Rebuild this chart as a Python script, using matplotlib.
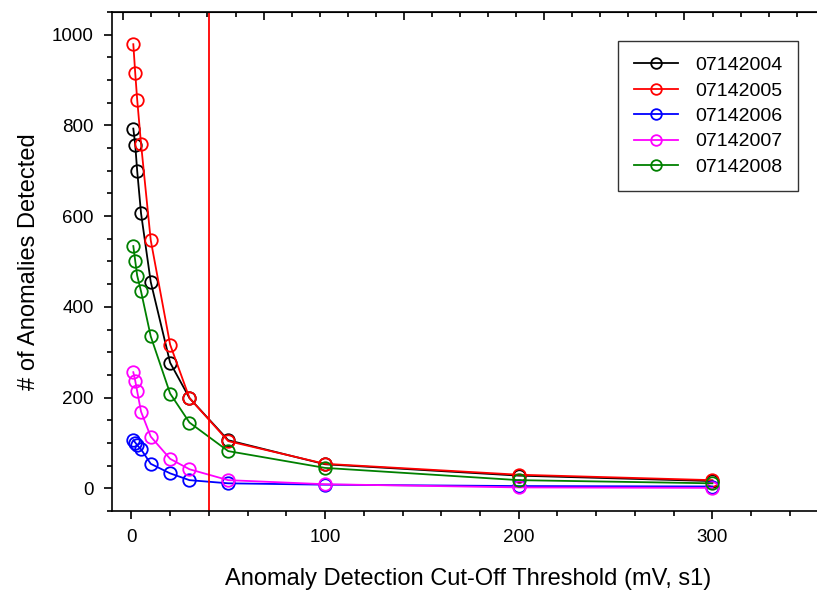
import matplotlib
matplotlib.use("Agg")
from matplotlib import pyplot as plt
from matplotlib.ticker import MultipleLocator

plt.rcParams['font.family'] = ['Liberation Sans', 'DejaVu Sans']

# cut-off thresholds (mV)
thresholds = [1, 2, 3, 5, 10, 20, 30, 50, 100, 200, 300]

# anomalies detected per recording
rec_07142004 = [793, 757, 700, 606, 455, 277, 199, 106, 53, 28, 16]
rec_07142005 = [979, 915, 857, 759, 547, 317, 199, 104, 54, 30, 18]
rec_07142006 = [106, 101, 95, 86, 54, 33, 18, 11, 8, 5, 4]
rec_07142007 = [256, 237, 214, 169, 114, 65, 42, 18, 9, 2, 1]
rec_07142008 = [534, 501, 469, 434, 335, 209, 145, 82, 45, 18, 11]

names = ['07142004', '07142005', '07142006', '07142007', '07142008']
colors = ['black', 'red', 'blue', 'magenta', 'green']
series = [rec_07142004, rec_07142005, rec_07142006, rec_07142007, rec_07142008]
cutoff = 40

fig = plt.figure(figsize=(8.17, 5.95), dpi=100)
ax = fig.add_axes([112/817, 1 - 511/595, 1 - 112/817, 499/595])

for name, col, vals in zip(names, colors, series):
	ax.plot(thresholds, vals, color=col, lw=1.3, marker='o', ms=9,
			mfc='none', mec=col, mew=1.3, label=name)

ax.axvline(cutoff, color='red', lw=1.3)

ax.set_xlim(-10, 354)
ax.set_ylim(-50, 1050)
ax.xaxis.set_major_locator(MultipleLocator(100))
ax.xaxis.set_minor_locator(MultipleLocator(20))
ax.yaxis.set_major_locator(MultipleLocator(200))
ax.yaxis.set_minor_locator(MultipleLocator(50))
ax.tick_params(which='both', direction='out', labelsize=13.5, width=1.2)
ax.tick_params(which='major', length=5.5, pad=7.5)
ax.tick_params(which='minor', length=3.5)
ax.spines['right'].set_visible(False)
for s in ['left', 'bottom', 'top']:
	ax.spines[s].set_linewidth(1.2)

# second (unlabelled) scale along the top edge
top = ax.twiny()
top.set_xlim((112 - 123.3)/140.3, (817 - 123.3)/140.3)
top.xaxis.set_major_locator(MultipleLocator(1))
top.xaxis.set_minor_locator(MultipleLocator(0.2))
top.tick_params(which='both', direction='in', labeltop=False, width=1.2)
top.tick_params(which='major', length=5.5)
top.tick_params(which='minor', length=3.5)
for s in ['right', 'left', 'bottom']:
	top.spines[s].set_visible(False)

ax.set_xlabel('Anomaly Detection Cut-Off Threshold (mV, s1)', fontsize=17, va='top')
ax.xaxis.set_label_coords(0.505, -0.115)
ax.set_ylabel('# of Anomalies Detected', fontsize=17)
ax.yaxis.set_label_coords(-0.102, 0.5)

leg = ax.legend(loc='upper right', bbox_to_anchor=((798 - 112)/705, 1 - (41 - 12)/499),
				bbox_transform=ax.transAxes, fontsize=14, fancybox=False,
				edgecolor='black', handlelength=2.27, handletextpad=0.9,
				markerscale=0.85, borderpad=0.8, borderaxespad=0,
				labelspacing=0.4)
leg.get_frame().set_linewidth(1.0)
leg.set_zorder(5)

fig.savefig('out.png', dpi=100)
